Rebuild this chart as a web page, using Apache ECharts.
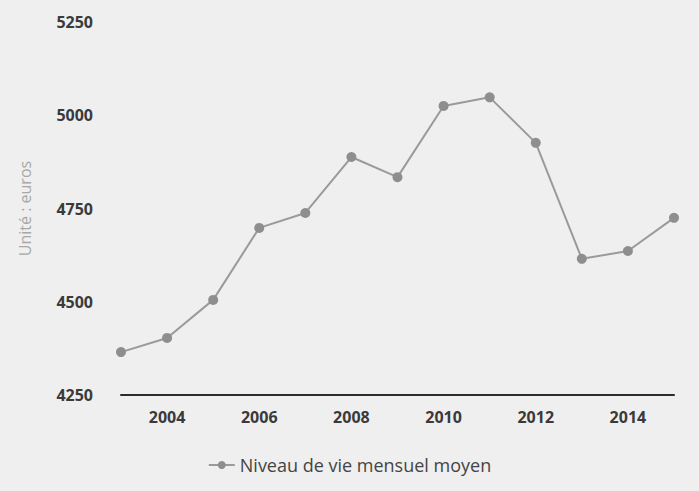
<!DOCTYPE html>
<html>
<head>
<meta charset="utf-8">
<script src="https://cdn.jsdelivr.net/npm/echarts@6/dist/echarts.min.js"></script>
<style>
  html, body { margin: 0; padding: 0; background: #efefef; }
  #chart { width: 699px; height: 491px; }
</style>
</head>
<body>
<div id="chart"></div>
<script>
var years = ['2003', '2004', '2005', '2006', '2007', '2008', '2009', '2010', '2011', '2012', '2013', '2014', '2015'];
var niveauDeVie = [4365, 4403, 4505, 4698, 4738, 4888, 4834, 5025, 5048, 4926, 4615, 4636, 4725];
var seriesName = 'Niveau de vie mensuel moyen';
var yTicks = { min: 4250, max: 5250, interval: 250 };

var chart = echarts.init(document.getElementById('chart'), null, { renderer: 'svg' });
chart.setOption({
  backgroundColor: '#efefef',
  animation: false,
  textStyle: { fontFamily: 'Open Sans' },
  grid: { left: 121, right: 25, top: 22, bottom: 96 },
  legend: {
    data: [seriesName],
    bottom: 12,
    left: 'center',
    itemWidth: 26,
    itemHeight: 10,
    textStyle: { color: '#444', fontSize: 18, fontFamily: 'Open Sans' }
  },
  xAxis: {
    type: 'category',
    data: years,
    boundaryGap: false,
    axisLine: { lineStyle: { color: '#2b2b2b', width: 2 } },
    axisTick: { show: false },
    axisLabel: {
      color: '#3a3a3a', fontWeight: 'bold', fontSize: 16, margin: 14,
      interval: function (index, value) { return Number(value) % 2 === 0; }
    },
    splitLine: { show: false }
  },
  yAxis: {
    type: 'value',
    min: yTicks.min,
    max: yTicks.max,
    interval: yTicks.interval,
    name: 'Unité : euros',
    nameLocation: 'middle',
    nameGap: 88,
    nameTextStyle: { color: '#a8a8a8', fontSize: 16 },
    axisLine: { show: false },
    axisTick: { show: false },
    axisLabel: {
      color: '#3a3a3a', fontWeight: 'bold', fontSize: 16, margin: 28,
      formatter: function (v) { return String(v); }
    },
    splitLine: { show: false }
  },
  series: [{
    name: seriesName,
    type: 'line',
    data: niveauDeVie,
    symbol: 'circle',
    symbolSize: 10,
    lineStyle: { color: '#9a9a9a', width: 2 },
    itemStyle: { color: '#8e8e8e' }
  }]
});
</script>
</body>
</html>
